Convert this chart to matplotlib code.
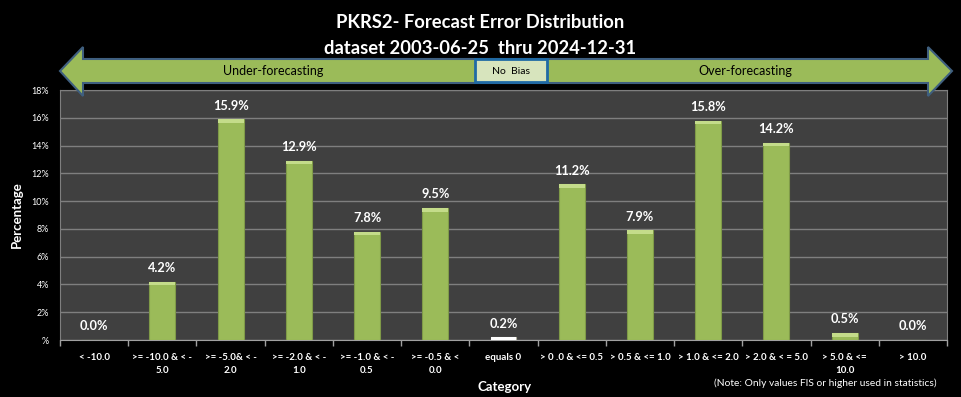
import matplotlib
matplotlib.use("Agg")
import matplotlib.pyplot as plt
from matplotlib.patches import Polygon, Rectangle
import numpy as np

categories = ["< -10.0", ">= -10.0 & < -\n5.0", ">= -5.0& < -\n2.0", ">= -2.0 & < -\n1.0",
              ">= -1.0 & < -\n0.5", ">= -0.5 & <\n0.0", "equals 0", "> 0 .0 & <= 0.5",
              "> 0.5 & <= 1.0", "> 1.0 & <= 2.0", "> 2.0 & < = 5.0", "> 5.0 & <=\n10.0", "> 10.0"]
values = [0.0, 4.2, 15.9, 12.9, 7.8, 9.5, 0.2, 11.2, 7.9, 15.8, 14.2, 0.5, 0.0]
ytick_values = [0, 2, 4, 6, 8, 10, 12, 14, 16, 18]
ytick_labels = ["%", "2%", "4%", "6%", "8%", "10%", "12%", "14%", "16%", "18%"]

plt.rcParams['font.family'] = ['Lato', 'DejaVu Sans']
W, H = 961, 397
fig = plt.figure(figsize=(W / 100, H / 100), dpi=100, facecolor='black')
ax = fig.add_axes([60 / W, 1 - 340 / H, 887 / W, 250 / H])
ax.set_facecolor('#404040')

x = np.arange(len(categories))
colors = ['#f2f2f2' if c == "equals 0" else '#9bbb59' for c in categories]
edges = ['#b0b0a0' if c == "equals 0" else '#7f9a48' for c in categories]
bars = ax.bar(x, values, width=0.38, color=colors, edgecolor=edges, linewidth=0.8, zorder=3)
# top highlight
ax.bar(x, [min(v, 0.25) for v in values], bottom=[max(v - 0.25, 0) for v in values], width=0.38,
       color=['#ffffff' if c == "equals 0" else '#c4dc8a' for c in categories], linewidth=0, zorder=4)

for xi, v in zip(x, values):
    ax.text(xi, v + 0.55, f"{v:.1f}%", ha='center', va='bottom', color='white',
            fontsize=9.2, fontweight='bold', zorder=5)

ax.set_xlim(-0.5, len(categories) - 0.5)
ax.set_ylim(0, 18)
ax.set_yticks(ytick_values)
ax.set_yticklabels(ytick_labels, color='white', fontsize=6.5)
ax.yaxis.grid(True, color='#7f7f7f', linewidth=1.0, zorder=0)
ax.set_axisbelow(True)
ax.tick_params(axis='y', length=0, pad=8)

ax.set_xticks(x)
ax.set_xticklabels(categories, color='white', fontsize=7, fontweight='bold', linespacing=1.6)
ax.set_xticks(np.arange(len(categories) + 1) - 0.5, minor=True)
ax.tick_params(axis='x', which='major', length=0, pad=9)
ax.tick_params(axis='x', which='minor', length=4, color='#a0a0a0', width=1)

for side in ['top', 'right']:
    ax.spines[side].set_color('#7f7f7f')
ax.spines['left'].set_color('#7f7f7f')
ax.spines['bottom'].set_color('#a0a0a0')

ax.set_ylabel("Percentage", color='white', fontsize=9.5, fontweight='bold', labelpad=6)
fig.text(505 / W, 1 - 387 / H, "Category", color='white', fontsize=9.5, fontweight='bold',
         ha='center', va='center')
fig.text(825 / W, 1 - 383 / H, "(Note: Only values FIS or higher used in statistics)",
         color='white', fontsize=7.4, ha='center', va='center')

fig.text(0.5, 1 - 23 / H, "PKRS2- Forecast Error Distribution", color='white', fontsize=13.2,
         fontweight='bold', ha='center', va='center')
fig.text(0.5, 1 - 48 / H, "dataset 2003-06-25  thru 2024-12-31", color='white', fontsize=13.2,
         fontweight='bold', ha='center', va='center')

def px(pts):
    return [(a / W, 1 - b / H) for a, b in pts]

arrow = Polygon(px([(60, 71), (83, 47), (83, 59), (928, 59), (928, 47), (952, 71),
                    (928, 96), (928, 83), (83, 83), (83, 96)]),
                closed=True, facecolor='#9bbb59', edgecolor='#3f5f7f', linewidth=1.5,
                transform=fig.transFigure, zorder=2)
fig.add_artist(arrow)
box = Rectangle((475 / W, 1 - 82 / H), 72 / W, 23 / H, facecolor='#d7e4bd',
                edgecolor='#1f6aa5', linewidth=2, transform=fig.transFigure, zorder=3)
fig.add_artist(box)
fig.text(511 / W, 1 - 71 / H, "No  Bias", color='black', fontsize=7.5, ha='center', va='center', zorder=4)
fig.text(273 / W, 1 - 71 / H, "Under-forecasting", color='black', fontsize=9, ha='center', va='center', zorder=4)
fig.text(745 / W, 1 - 71 / H, "Over-forecasting", color='black', fontsize=9, ha='center', va='center', zorder=4)

fig.savefig("out.png", dpi=100, facecolor='black')
